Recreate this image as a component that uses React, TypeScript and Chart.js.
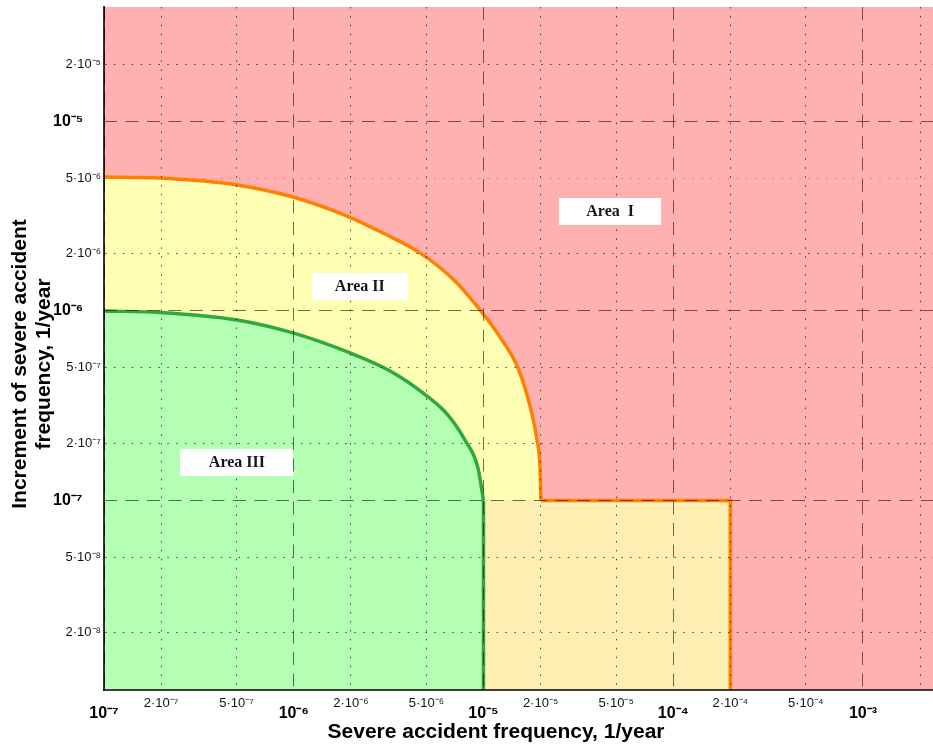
import React, { useEffect, useRef } from 'react';
import { Chart, registerables } from 'chart.js';

Chart.register(...registerables);

const FONT = "'Liberation Sans', Arial, Helvetica, sans-serif";
const SERIF = "'Liberation Serif', 'Times New Roman', Times, serif";

// Axis ranges
const xRange = [1e-7, 2.34e-3];
const yRange = [1e-8, 4e-5];

// Tick values and labels
const xMajorTicks = [1e-7, 1e-6, 1e-5, 1e-4, 1e-3];
const xMajorLabels = ['10⁻⁷', '10⁻⁶', '10⁻⁵', '10⁻⁴', '10⁻³'];
const xMinorTicks = [2e-7, 5e-7, 2e-6, 5e-6, 2e-5, 5e-5, 2e-4, 5e-4, 2e-3];
const xMinorLabels = ['2·10⁻⁷', '5·10⁻⁷', '2·10⁻⁶', '5·10⁻⁶', '2·10⁻⁵', '5·10⁻⁵', '2·10⁻⁴', '5·10⁻⁴', ''];
const yMajorTicks = [1e-7, 1e-6, 1e-5];
const yMajorLabels = ['10⁻⁷', '10⁻⁶', '10⁻⁵'];
const yMinorTicks = [2e-8, 5e-8, 2e-7, 5e-7, 2e-6, 5e-6, 2e-5];
const yMinorLabels = ['2·10⁻⁸', '5·10⁻⁸', '2·10⁻⁷', '5·10⁻⁷', '2·10⁻⁶', '5·10⁻⁶', '2·10⁻⁵'];

// Axis titles
const xTitle = 'Severe accident frequency, 1/year';
const yTitle = ['Increment of severe accident', 'frequency, 1/year'];

// Area II upper boundary (orange curve)
const area2X = [1e-7, 1.97e-7, 5.02e-7, 9.91e-7, 1.91e-6, 3.03e-6, 4.63e-6, 7.08e-6, 9.59e-6, 1.222e-5, 1.52e-5, 1.78e-5, 1.915e-5, 1.986e-5, 2.01e-5];
const area2Y = [5.08e-6, 5.01e-6, 4.61e-6, 3.98e-6, 3.16e-6, 2.54e-6, 2.02e-6, 1.436e-6, 1.01e-6, 7.27e-7, 4.99e-7, 3.0e-7, 2.08e-7, 1.5e-7, 1.0e-7];
const area2Base = 1e-7;

// Area II lower step (orange outline, light orange fill)
const stepX = [1e-5, 2.01e-5, 2e-4, 2e-4];
const stepY = [1e-7, 1e-7, 1e-7, 1e-8];

// Area III boundary (green curve) and its vertical edge
const area3X = [1e-7, 1.97e-7, 5.02e-7, 9.91e-7, 1.98e-6, 3.22e-6, 5.04e-6, 6.5e-6, 7.99e-6, 9.36e-6, 1e-5];
const area3Y = [9.97e-7, 9.79e-7, 8.94e-7, 7.64e-7, 5.99e-7, 4.81e-7, 3.55e-7, 2.82e-7, 2.08e-7, 1.48e-7, 1.0e-7];
const area3EdgeX = [1e-5, 1e-5];
const area3EdgeY = [1e-7, 1e-8];

// Area labels (anchored in data coordinates)
const areaLabels = ['Area  I', 'Area II', 'Area III'];
const areaLabelX = [4.65e-5, 2.23e-6, 5.02e-7];
const areaLabelY = [3.35e-6, 1.35e-6, 1.59e-7];

const RED = '#FFB1B1';
const YELLOW = '#FFFFB3';
const GREEN = '#B3FFB3';
const LIGHT_ORANGE = '#FFEEB2';
const ORANGE = '#FF7F00';
const GREEN_LINE = '#2FA83C';
const DASH_COLOR = 'rgba(45,10,10,0.62)';
const DOT_COLOR = 'rgba(40,25,25,0.8)';
const CLEAR = 'rgba(0,0,0,0)';

const xAllTicks = [...xMajorTicks, ...xMinorTicks].sort((a, b) => a - b);

const zip = (xs: number[], ys: number[]) => xs.map((x, i) => ({ x, y: ys[i] }));

const zeroPad = (s: any) => {
  s.paddingLeft = 0;
  s.paddingRight = 0;
  s.paddingTop = 0;
  s.paddingBottom = 0;
};

const isXMajor = (c: any) => !!c.tick && xMajorTicks.indexOf(c.tick.value) >= 0;

const xLabel = (v: number) => {
  const mi = xMajorTicks.indexOf(v);
  if (mi >= 0) return ['', xMajorLabels[mi]];
  const ni = xMinorTicks.indexOf(v);
  return ni >= 0 ? xMinorLabels[ni] : '';
};

const TITLE_FONT = { family: FONT, size: 21, weight: 'bold', lineHeight: '24px' };

// Layout-only axes that carry the axis titles (no ticks, no grid)
const titleAxis = (position: string, stackWeight: number, weight: number, size: number, title?: any) => ({
  type: 'linear',
  position,
  stack: position === 'left' ? 'ytitle' : 'xtitle',
  stackWeight,
  weight,
  min: 0,
  max: 1,
  ticks: { display: false },
  grid: { display: false, drawTicks: false },
  border: { display: false },
  afterFit: (s: any) => {
    if (position === 'left') s.width = size;
    else s.height = size;
    zeroPad(s);
  },
  title: title || { display: false },
});

const areaLabelPlugin = {
  id: 'areaLabels',
  afterDraw(chart: any) {
    const { ctx, scales } = chart;
    const xs = scales.x;
    const ys = scales.y;
    const widths = [102, 96, 113];
    const h = 27;
    ctx.save();
    ctx.font = `bold 16px ${SERIF}`;
    ctx.textAlign = 'center';
    ctx.textBaseline = 'middle';
    areaLabels.forEach((label, i) => {
      const px = xs.getPixelForValue(areaLabelX[i]);
      const py = ys.getPixelForValue(areaLabelY[i]);
      const w = widths[i];
      ctx.fillStyle = '#ffffff';
      ctx.fillRect(Math.round(px - w / 2), Math.round(py - h / 2), w, h);
      ctx.fillStyle = '#15151f';
      ctx.fillText(label, px, py + 1);
    });
    ctx.restore();
  },
};

export default function App() {
  const ref = useRef<HTMLCanvasElement>(null);

  useEffect(() => {
    if (!ref.current) return;
    Chart.defaults.font.family = FONT;
    const lineBase = { pointRadius: 0, pointHoverRadius: 0, xAxisID: 'x', yAxisID: 'y' };
    const chart = new Chart(ref.current, {
      type: 'line',
      data: {
        datasets: [
          {
            ...lineBase,
            label: 'Area I',
            data: [
              { x: xRange[0], y: yRange[1] },
              { x: xRange[1], y: yRange[1] },
            ],
            fill: 'start',
            backgroundColor: RED,
            borderColor: CLEAR,
            borderWidth: 0,
            order: 5,
          },
          {
            ...lineBase,
            label: 'Area II step',
            data: zip(stepX, stepY),
            fill: 'start',
            backgroundColor: LIGHT_ORANGE,
            borderColor: ORANGE,
            borderWidth: 3.5,
            tension: 0,
            order: 4,
            segment: {
              borderColor: (c: any) => (c.p0DataIndex === 0 ? CLEAR : undefined),
            },
          },
          {
            ...lineBase,
            label: 'Area II',
            data: zip(area2X, area2Y),
            fill: { value: area2Base },
            backgroundColor: YELLOW,
            borderColor: ORANGE,
            borderWidth: 3.5,
            cubicInterpolationMode: 'monotone',
            order: 3,
          },
          {
            ...lineBase,
            label: 'Area III',
            data: zip(area3X, area3Y),
            fill: 'start',
            backgroundColor: GREEN,
            borderColor: GREEN_LINE,
            borderWidth: 3.5,
            cubicInterpolationMode: 'monotone',
            order: 2,
          },
          {
            ...lineBase,
            label: 'Area III edge',
            data: zip(area3EdgeX, area3EdgeY),
            fill: false,
            borderColor: GREEN_LINE,
            borderWidth: 3.5,
            order: 1,
          },
        ],
      },
      options: {
        responsive: false,
        devicePixelRatio: 1,
        animation: false,
        events: [],
        layout: { padding: { top: 7, left: 0, right: 0, bottom: 0 } },
        plugins: {
          legend: { display: false },
          tooltip: { enabled: false },
        },
        scales: {
          x: {
            type: 'logarithmic',
            axis: 'x',
            position: 'bottom',
            weight: 0,
            min: xRange[0],
            max: xRange[1],
            afterBuildTicks: (s: any) => {
              s.ticks = xAllTicks.map((v) => ({ value: v }));
            },
            afterFit: (s: any) => {
              s.height = 32;
              zeroPad(s);
            },
            ticks: {
              autoSkip: false,
              maxRotation: 0,
              minRotation: 0,
              padding: 6,
              color: (c: any) => (isXMajor(c) ? '#000' : '#111'),
              font: (c: any) =>
                isXMajor(c)
                  ? { family: FONT, size: 16, weight: 'bold', lineHeight: 0.72 }
                  : { family: FONT, size: 13, weight: 'normal', lineHeight: 1.2 },
              callback: (v: any) => xLabel(Number(v)),
            },
            grid: {
              color: (c: any) => (isXMajor(c) ? CLEAR : DOT_COLOR),
              lineWidth: 1,
              drawTicks: false,
              z: 1,
              borderDash: [1.5, 7.4],
            },
            border: { display: true, color: 'rgba(0,0,0,0.75)', width: 2, dash: [1.5, 7.4], z: 2 },
          },
          xMajor: {
            type: 'logarithmic',
            axis: 'x',
            position: 'bottom',
            weight: 1,
            min: xRange[0],
            max: xRange[1],
            afterBuildTicks: (s: any) => {
              s.ticks = xMajorTicks.map((v) => ({ value: v }));
            },
            afterFit: (s: any) => {
              s.height = 0;
              zeroPad(s);
            },
            ticks: { display: false },
            grid: { color: DASH_COLOR, lineWidth: 1, drawTicks: false, z: 1, borderDash: [13, 8.5] },
            border: { display: false, dash: [13, 8.5] },
          },
          xTitleAxis: titleAxis('bottom', 784, 2, 22, {
            display: true,
            text: xTitle,
            color: '#000',
            font: TITLE_FONT,
            padding: { top: 0, bottom: 0 },
          }),
          xTitleSpacer: titleAxis('bottom', 45, 3, 22),
          y: {
            type: 'logarithmic',
            axis: 'y',
            position: 'left',
            weight: 0,
            min: yRange[0],
            max: yRange[1],
            afterBuildTicks: (s: any) => {
              s.ticks = yMinorTicks.map((v) => ({ value: v }));
            },
            afterFit: (s: any) => {
              s.width = 44;
              zeroPad(s);
            },
            ticks: {
              autoSkip: false,
              padding: 3,
              color: '#111',
              font: { family: FONT, size: 13 },
              callback: (_v: any, i: number) => yMinorLabels[i],
            },
            grid: {
              color: (c: any) =>
                c.tick && c.tick.value === 5e-6 ? 'rgba(255,110,0,0.9)' : DOT_COLOR,
              lineWidth: 1,
              drawTicks: false,
              z: 1,
              borderDash: [1.5, 7.4],
            },
            border: { display: true, color: 'rgba(0,0,0,0.8)', width: 2, dash: [1.5, 7.4], z: 2 },
          },
          yMajor: {
            type: 'logarithmic',
            axis: 'y',
            position: 'left',
            weight: 1,
            min: yRange[0],
            max: yRange[1],
            afterBuildTicks: (s: any) => {
              s.ticks = yMajorTicks.map((v) => ({ value: v }));
            },
            afterFit: (s: any) => {
              s.width = 10;
              zeroPad(s);
            },
            ticks: {
              autoSkip: false,
              mirror: true,
              padding: -7,
              color: '#000',
              font: { family: FONT, size: 16, weight: 'bold' },
              callback: (_v: any, i: number) => yMajorLabels[i],
            },
            grid: { color: DASH_COLOR, lineWidth: 1, drawTicks: false, z: 1, borderDash: [13, 8.5] },
            border: { display: false, dash: [13, 8.5] },
          },
          yTitleAxis: titleAxis('left', 652, 2, 50, {
            display: true,
            text: yTitle,
            color: '#000',
            font: TITLE_FONT,
            padding: { top: 8, bottom: 0 },
          }),
          yTitleSpacer: titleAxis('left', 31, 3, 50),
        },
      } as any,
      plugins: [areaLabelPlugin],
    } as any);
    return () => chart.destroy();
  }, []);

  return (
    <div style={{ position: 'absolute', left: 0, top: 0, width: 933, height: 744, background: '#ffffff' }}>
      <canvas ref={ref} width={933} height={744} style={{ display: 'block' }} />
    </div>
  );
}
